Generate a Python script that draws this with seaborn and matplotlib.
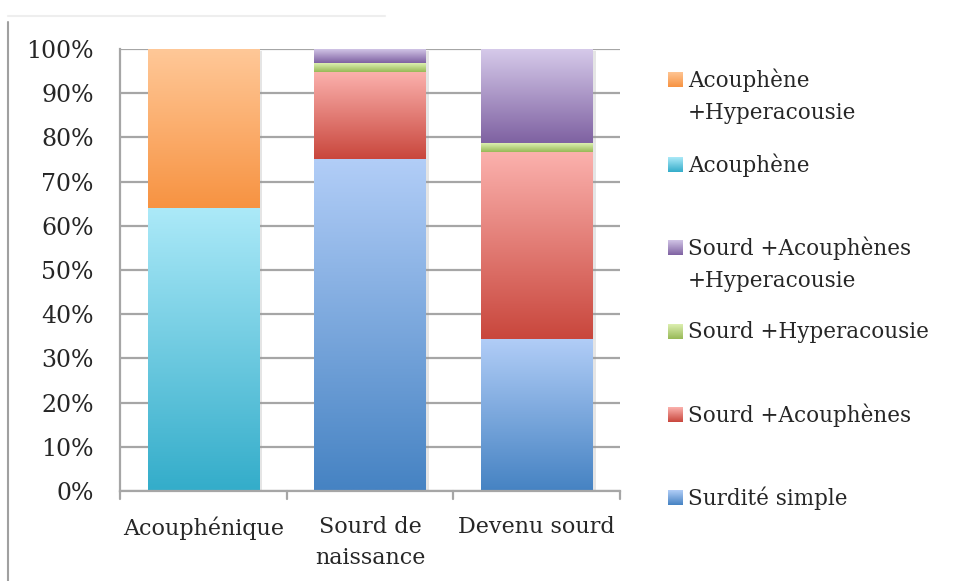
import numpy as np
import pandas as pd
import seaborn as sns
import matplotlib.pyplot as plt
import matplotlib.patheffects as pe
from matplotlib.lines import Line2D

# données (en %)
categories = ["Acouphénique", "Sourd de\nnaissance", "Devenu sourd"]
surdite_simple = [0.0, 75.1, 34.4]
sourd_acouphenes = [0.0, 19.7, 42.4]
sourd_hyperacousie = [0.0, 2.0, 1.9]
sourd_acou_hyper = [0.0, 3.2, 21.3]
acouphene = [64.0, 0.0, 0.0]
acouphene_hyper = [36.0, 0.0, 0.0]

series_names = [
    "Surdité simple",
    "Sourd +Acouphènes",
    "Sourd +Hyperacousie",
    "Sourd +Acouphènes\n+Hyperacousie",
    "Acouphène",
    "Acouphène\n+Hyperacousie",
]
series_values = [surdite_simple, sourd_acouphenes, sourd_hyperacousie,
                 sourd_acou_hyper, acouphene, acouphene_hyper]

# dégradés (haut clair -> bas foncé)
gradients = [
    ("#b1cdf7", "#4683c3"),
    ("#fbb1ad", "#c9473d"),
    ("#dcefb0", "#98b957"),
    ("#d6caea", "#7f62a2"),
    ("#abe9f8", "#34adca"),
    ("#ffc898", "#f79342"),
]


def gradient_img(top, bottom, n=64):
    c1 = np.array(plt.matplotlib.colors.to_rgb(top))
    c2 = np.array(plt.matplotlib.colors.to_rgb(bottom))
    t = np.linspace(0, 1, n)[:, None]
    return (c1 * (1 - t) + c2 * t)[:, None, :]


sns.set_style("white")
plt.rcParams["font.family"] = ["DejaVu Serif"]
FS_Y = 17
FS_X = 16
FS_LEG = 15.5

fig = plt.figure(figsize=(9.57, 5.81), dpi=100)
W, H = 957, 581
ax = fig.add_axes([120 / W, 1 - 491 / H, 500 / W, 442 / H])

bottom = np.zeros(len(categories))
groups = []
for name, vals in zip(series_names, series_values):
    n0 = len(ax.patches)
    df = pd.DataFrame({"cat": categories, "val": vals})
    sns.barplot(data=df, x="cat", y="val", bottom=bottom, width=0.667,
                color="white", ax=ax, errorbar=None, linewidth=0)
    groups.append(ax.patches[n0:])
    bottom = bottom + np.array(vals)

# remplissage en dégradé
for patches, (top, bot) in zip(groups, gradients):
    img = gradient_img(top, bot)
    for p in patches:
        if p.get_height() <= 0:
            p.set_visible(False)
            continue
        x0, y0 = p.get_x(), p.get_y()
        w, h = p.get_width(), p.get_height()
        p.set_path_effects([pe.SimplePatchShadow(offset=(2.5, -1.5), shadow_rgbFace="#999999", alpha=0.25),
                            pe.Normal()])
        p.set_zorder(2)
        ax.imshow(img, extent=[x0, x0 + w, y0, y0 + h], aspect="auto",
                  interpolation="bilinear", zorder=3, origin="upper")

ax.set_xlim(-0.5, 2.5)
ax.set_ylim(0, 100)
ax.set_yticks(np.arange(0, 101, 10))
ax.set_yticklabels([f"{v}%" for v in range(0, 101, 10)], fontsize=FS_Y)
ax.set_xticks([0, 1, 2])
ax.set_xticklabels(categories, fontsize=FS_X, linespacing=1.55)
ax.set_xlabel("")
ax.set_ylabel("")
ax.yaxis.grid(True, color="#a6a6a6", linewidth=1.6)
ax.set_axisbelow(True)
for s in ["top", "right"]:
    ax.spines[s].set_visible(False)
for s in ["left", "bottom"]:
    ax.spines[s].set_color("#a6a6a6")
    ax.spines[s].set_linewidth(1.6)
    ax.spines[s].set_zorder(5)
ax.tick_params(axis="y", length=7, color="#a6a6a6", width=1.6, pad=12)
ax.tick_params(axis="x", length=0, pad=18)
# graduations de l'axe des x entre les catégories
for xb in [-0.5, 0.5, 1.5, 2.5]:
    ax.plot([xb, xb], [0, -1.8], color="#a6a6a6", lw=1.6, clip_on=False, zorder=5)

# légende dessinée à la main (ordre inverse de l'empilement)
leg_y = [80, 165, 248, 332, 415, 498]
for yy, name, (top, bot) in zip(leg_y, series_names[::-1], gradients[::-1]):
    sq = fig.add_axes([668 / W, 1 - (yy + 7) / H, 15 / W, 15 / H])
    sq.imshow(gradient_img(top, bot), aspect="auto", extent=[0, 1, 0, 1])
    sq.set_axis_off()
    for k, line in enumerate(name.split("\n")):
        fig.text(688 / W, 1 - (yy + 33 * k) / H, line, fontsize=FS_LEG,
                 va="center", ha="left")

# cadre de l'image d'origine
fig.add_artist(Line2D([8 / W, 8 / W], [0, 1 - 22 / H], color="#a0a0a0", lw=1.5))
fig.add_artist(Line2D([8 / W, 385 / W], [1 - 16 / H, 1 - 16 / H], color="#eeeeee", lw=1.5))

fig.savefig("out.png", dpi=100)
